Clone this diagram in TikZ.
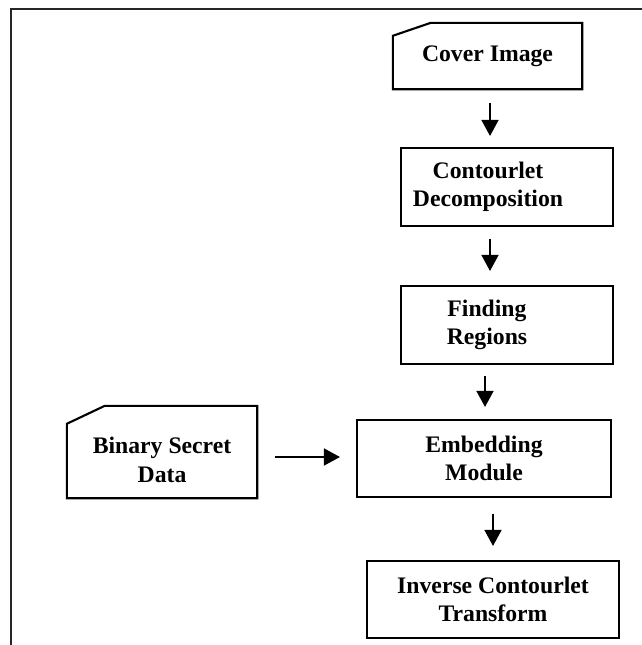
\documentclass[tikz,border=0pt]{standalone}
\usepackage{fontspec}
\setmainfont{Liberation Serif}
\usetikzlibrary{arrows.meta, positioning}

\begin{document}
\begin{tikzpicture}[x=1pt, y=-1pt,
        block/.style={draw, line width=2.1pt, inner sep=0pt},
        card/.style={inner sep=0pt},
        outline/.style={line width=2.1pt, line join=miter},
        words/.style={font=\bfseries\fontsize{23.7}{28.5}\selectfont, align=center, inner sep=0pt},
        flow/.style={-{Triangle[width=17pt, length=16pt]}, line width=1.5pt},
        frame/.style={line width=1.6pt, black!85}
    ]
    \useasboundingbox (0,0) rectangle (642,645);

    % outer frame (cut off at right and bottom)
    \draw[frame] (11,645) -- (11,9) -- (642,9);

    % cards with a cut corner
    \node[card, words, minimum width=189pt, minimum height=66pt] (cover) at (487.5,56) {Cover Image};
    \draw[outline] ([xshift=38pt]cover.north west) -- (cover.north east) -- (cover.south east)
        -- (cover.south west) -- ([yshift=-13pt]cover.north west) -- cycle;

    \node[card, minimum width=190pt, minimum height=92pt] (secret) at (162,452) {};
    \node[words] (secrettext) at (162,460) {Binary Secret\\Data};
    \draw[outline] ([xshift=38pt]secret.north west) -- (secret.north east) -- (secret.south east)
        -- (secret.south west) -- ([yshift=-18pt]secret.north west) -- cycle;

    % process boxes
    \node[block, minimum width=212pt, minimum height=78pt] (decomp) at (507,187) {};
    \node[words] (decomptext) at (488,187) {Contourlet\\Decomposition};

    \node[block, minimum width=212pt, minimum height=78pt] (regions) at (507,325) {};
    \node[words] (regionstext) at (487,325) {Finding\\Regions};

    \node[block, words, minimum width=254pt, minimum height=77pt] (embed) at (484,458.5) {Embedding\\Module};

    \node[block, words, minimum width=252pt, minimum height=77pt] (inverse) at (493,599.5) {Inverse Contourlet\\Transform};

    % arrows
    \draw[flow, shorten <=14pt, shorten >=11pt] ([xshift=2.5pt]cover.south) -- ([xshift=-17pt]decomp.north);
    \draw[flow, shorten <=12pt, shorten >=14pt] ([xshift=-17pt]decomp.south) -- ([xshift=-17pt]regions.north);
    \draw[flow, shorten <=11pt, shorten >=12pt] ([xshift=-22pt]regions.south) -- ([xshift=1pt]embed.north);
    \draw[flow, shorten <=18pt, shorten >=16pt] ([yshift=-5pt]secret.east) -- ([yshift=1.5pt]embed.west);
    \draw[flow, shorten <=16pt, shorten >=14pt] ([xshift=9pt]embed.south) -- (inverse.north);
\end{tikzpicture}
\end{document}
